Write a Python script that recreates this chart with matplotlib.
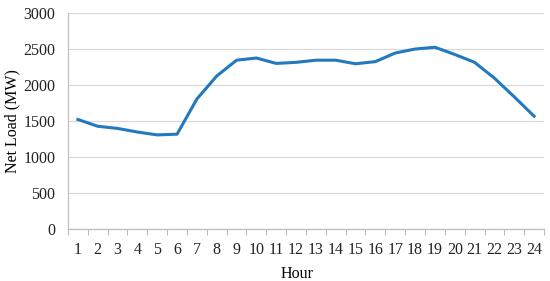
import numpy as np
import matplotlib
matplotlib.use("Agg")
import matplotlib.pyplot as plt
from matplotlib.ticker import MultipleLocator

plt.rcParams['font.family'] = ['Liberation Serif', 'DejaVu Serif']

# net load per hour
hours = list(range(1, 25))
net_load = [1525, 1430, 1400, 1350, 1310, 1320, 1810, 2130, 2350, 2380, 2305, 2320,
            2350, 2350, 2300, 2330, 2450, 2505, 2530, 2430, 2320, 2100, 1840, 1570]
yticks = [0, 500, 1000, 1500, 2000, 2500, 3000]

fig = plt.figure(figsize=(5.5, 2.81), dpi=100)
ax = fig.add_axes([0.1236, 0.185, 0.8655, 0.767])

ax.plot(hours, net_load, color='#2279bd', linewidth=2.2, solid_joinstyle='round')

ax.set_xlim(0.5, 24.5)
ax.set_ylim(0, 3000)
ax.set_yticks(yticks)
ax.set_xticks(hours)
ax.xaxis.set_minor_locator(MultipleLocator(1, offset=0.5))
ax.tick_params(axis='x', which='major', length=0, labelsize=11.5, pad=9, colors='#222222')
ax.tick_params(axis='x', which='minor', length=4, color='#bbbbbb', width=0.8, direction='out')
ax.tick_params(axis='y', length=0, labelsize=11.5, pad=9, colors='#222222')

ax.grid(axis='y', color='#d9d9d9', linewidth=0.9)
ax.set_axisbelow(True)
for s in ['top', 'right']:
    ax.spines[s].set_visible(False)
for s in ['left', 'bottom']:
    ax.spines[s].set_color('#bfbfbf')
    ax.spines[s].set_linewidth(0.9)

ax.set_xlabel('Hour', fontsize=11.5)
ax.set_ylabel('Net Load (MW)', fontsize=11.5)
ax.xaxis.set_label_coords(0.482, -0.17)
ax.yaxis.set_label_coords(-0.1, 0.5)

fig.savefig('out.png', dpi=100)
